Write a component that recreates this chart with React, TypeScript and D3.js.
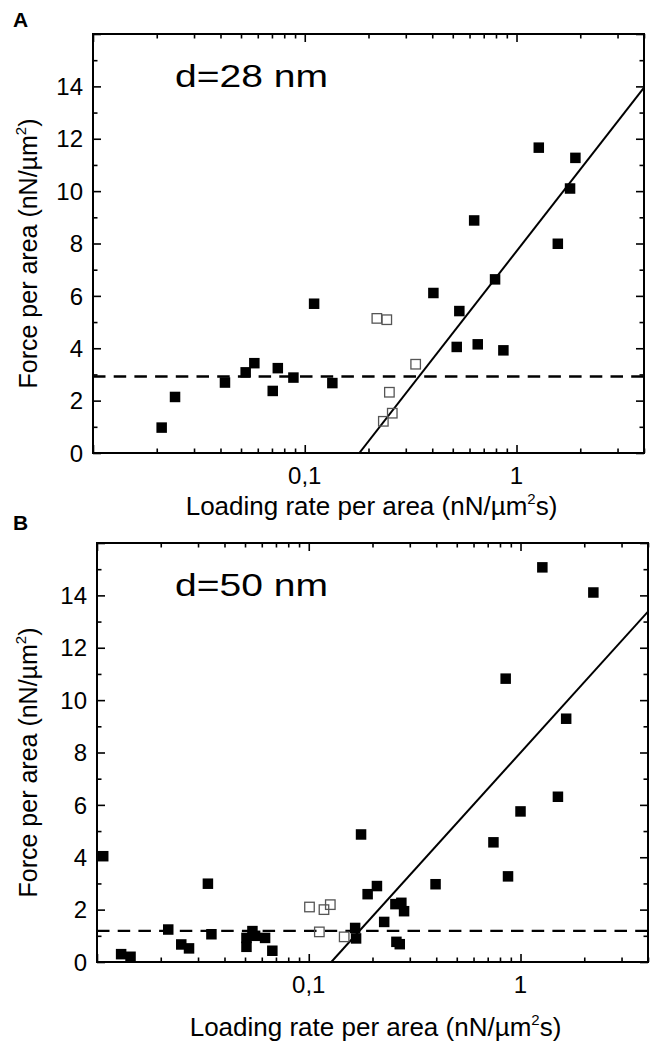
// react
import React, { useEffect, useRef } from 'react';
// d3
import * as d3 from 'd3';

const svgWidth = 651;
const svgHeight = 1043;
const font = 'Arial, "Liberation Sans", Helvetica, sans-serif';

// shared axes (log loading rate, linear force)
const xDomain = [0.01, 4];
const yDomain = [0, 16];
const xTickLabels: [number, string][] = [[0.1, '0,1'], [1, '1']];
const yTickLabels = [0, 2, 4, 6, 8, 10, 12, 14];

// panel A, d = 28 nm : [loading rate, force]
const filledA: [number, number][] = [
    [0.0211, 0.97], [0.0244, 2.14], [0.042, 2.69], [0.0526, 3.08], [0.0578, 3.43],
    [0.0706, 2.37], [0.0746, 3.24], [0.0884, 2.88], [0.1107, 5.70], [0.135, 2.67],
    [0.405, 6.11], [0.537, 5.42], [0.522, 4.05], [0.656, 4.15], [0.867, 3.92],
    [0.792, 6.63], [0.631, 8.88], [1.274, 11.66], [1.897, 11.27], [1.79, 10.10],
    [1.567, 7.99]
];
const openA: [number, number][] = [
    [0.219, 5.14], [0.244, 5.09], [0.334, 3.39], [0.251, 2.32], [0.259, 1.52], [0.235, 1.21]
];
const fitA: [number, number][] = [[0.181, 0], [4, 13.95]];
const plateauA = 2.92;

// panel B, d = 50 nm
const filledB: [number, number][] = [
    [0.0107, 4.04], [0.0130, 0.30], [0.0144, 0.20], [0.0217, 1.24], [0.0250, 0.67],
    [0.0272, 0.52], [0.0334, 2.99], [0.0347, 1.06], [0.0508, 0.58], [0.0508, 0.92],
    [0.0542, 1.18], [0.0558, 1.00], [0.0622, 0.92], [0.0673, 0.43], [0.1656, 1.30],
    [0.1673, 0.90], [0.1766, 4.87], [0.1897, 2.59], [0.2099, 2.90], [0.2271, 1.53],
    [0.2566, 2.21], [0.2737, 2.26], [0.2819, 1.94], [0.2594, 0.77], [0.269, 0.68],
    [0.397, 2.97], [0.745, 4.57], [0.873, 3.27], [1.0, 5.75], [1.502, 6.31],
    [1.268, 15.07], [2.208, 14.11], [0.851, 10.82], [1.643, 9.29]
];
const openB: [number, number][] = [
    [0.1008, 2.10], [0.118, 2.00], [0.1264, 2.19], [0.1122, 1.15], [0.147, 0.96]
];
const fitB: [number, number][] = [[0.1278, 0], [4, 13.38]];
const plateauB = 1.19;

const panels = [
    { id: 'A', label: 'd=28 nm', filled: filledA, open: openA, fit: fitA, plateau: plateauA,
      left: 93, right: 644, top: 34, bottom: 453, letterY: 27, xTitleGap: 62 },
    { id: 'B', label: 'd=50 nm', filled: filledB, open: openB, fit: fitB, plateau: plateauB,
      left: 97, right: 648, top: 543, bottom: 962, letterY: 530, xTitleGap: 74 }
];

const translate = (x, y) => 'translate(' + x + ',' + y + ')';

const isDecade = d => Math.abs(Math.log10(d) - Math.round(Math.log10(d))) < 1e-6;

const drawPanel = (svg, p) => {
    const x = d3.scaleLog().domain(xDomain).range([p.left, p.right]);
    const y = d3.scaleLinear().domain(yDomain).range([p.bottom, p.top]);
    const g = svg.append('g').attr('class', 'panel-' + p.id);

    const xt = x.ticks();
    const xMajor = xt.filter(isDecade);
    const xMinor = xt.filter(d => !isDecade(d));
    const yt = y.ticks(16);
    const yMajor = yt.filter(d => d % 2 === 0);
    const yMinor = yt.filter(d => d % 2 !== 0);

    const ticks = (axis, pos, values, len) => {
        g.append('g').attr('transform', pos)
            .call(axis.tickValues(values).tickSize(-len).tickFormat(() => ''))
            .call(a => a.select('.domain').remove())
            .selectAll('line').attr('stroke', '#000').attr('stroke-width', 1.6);
    };
    [[xMajor, 8], [xMinor, 4.5]].forEach(([vals, len]) => {
        ticks(d3.axisBottom(x), translate(0, p.bottom), vals, len);
        ticks(d3.axisTop(x), translate(0, p.top), vals, len);
    });
    [[yMajor, 8], [yMinor, 4.5]].forEach(([vals, len]) => {
        ticks(d3.axisLeft(y), translate(p.left, 0), vals, len);
        ticks(d3.axisRight(y), translate(p.right, 0), vals, len);
    });

    // frame
    g.append('rect')
        .attr('x', p.left).attr('y', p.top)
        .attr('width', p.right - p.left).attr('height', p.bottom - p.top)
        .attr('fill', 'none').attr('stroke', '#000').attr('stroke-width', 2);

    const clipId = 'clip-' + p.id;
    g.append('clipPath').attr('id', clipId).append('rect')
        .attr('x', p.left).attr('y', p.top)
        .attr('width', p.right - p.left).attr('height', p.bottom - p.top);

    // plateau (dashed) and fit (solid)
    g.append('line')
        .attr('clip-path', 'url(#' + clipId + ')')
        .attr('x1', x(xDomain[0])).attr('x2', x(xDomain[1]))
        .attr('y1', y(p.plateau)).attr('y2', y(p.plateau))
        .attr('stroke', '#000').attr('stroke-width', 2.4)
        .attr('stroke-dasharray', '12.5,8.2');

    const line = d3.line().x(d => x(d[0])).y(d => y(d[1]));
    g.append('path')
        .attr('clip-path', 'url(#' + clipId + ')')
        .attr('d', line(p.fit))
        .attr('fill', 'none').attr('stroke', '#000').attr('stroke-width', 2);

    const s = 10.5;
    g.selectAll('.filled')
        .data(p.filled)
        .enter()
        .append('rect')
        .attr('class', 'filled')
        .attr('x', d => x(d[0]) - s / 2)
        .attr('y', d => y(d[1]) - s / 2)
        .attr('width', s).attr('height', s)
        .attr('fill', '#000');

    g.selectAll('.open')
        .data(p.open)
        .enter()
        .append('rect')
        .attr('class', 'open')
        .attr('x', d => x(d[0]) - s / 2 + 0.5)
        .attr('y', d => y(d[1]) - s / 2 + 0.5)
        .attr('width', s - 1).attr('height', s - 1)
        .attr('fill', 'none').attr('stroke', '#555').attr('stroke-width', 1.3);

    // tick labels
    g.selectAll('.ylab')
        .data(yTickLabels)
        .enter()
        .append('text')
        .attr('class', 'ylab')
        .attr('x', p.left - 10)
        .attr('y', d => y(d))
        .attr('dy', '0.36em')
        .attr('text-anchor', 'end')
        .attr('font-family', font).attr('font-size', 24)
        .text(d => d);

    g.selectAll('.xlab')
        .data(xTickLabels)
        .enter()
        .append('text')
        .attr('class', 'xlab')
        .attr('x', d => x(d[0]))
        .attr('y', p.bottom + 31)
        .attr('text-anchor', 'middle')
        .attr('font-family', font).attr('font-size', 24)
        .text(d => d[1]);

    // axis titles
    const xt2 = g.append('text')
        .attr('x', (p.left + p.right) / 2 + 3)
        .attr('y', p.bottom + p.xTitleGap)
        .attr('text-anchor', 'middle')
        .attr('font-family', font).attr('font-size', 26);
    xt2.append('tspan').text('Loading rate per area (nN/\u00b5m');
    xt2.append('tspan').attr('font-size', 15).attr('dy', -11).text('2');
    xt2.append('tspan').attr('dy', 11).text('s)');

    const yt2 = g.append('text')
        .attr('transform', translate(37, (p.top + p.bottom) / 2 + 10) + ' rotate(-90)')
        .attr('text-anchor', 'middle')
        .attr('font-family', font).attr('font-size', 25);
    yt2.append('tspan').text('Force per area (nN/\u00b5m');
    yt2.append('tspan').attr('font-size', 15).attr('dy', -11).text('2');
    yt2.append('tspan').attr('dy', 11).text(')');

    // annotation and panel letter
    g.append('text')
        .attr('x', 175).attr('y', p.top + 53)
        .attr('font-family', font).attr('font-size', 31)
        .attr('textLength', 153).attr('lengthAdjust', 'spacingAndGlyphs')
        .text(p.label);

    g.append('text')
        .attr('x', 13).attr('y', p.letterY)
        .attr('font-family', font).attr('font-size', 21).attr('font-weight', 'bold')
        .text(p.id);
};

const App = () => {
    const myRef = useRef(null);

    useEffect(() => {
        const svg = d3.select(myRef.current);
        svg.selectAll('*').remove();
        panels.forEach(p => drawPanel(svg, p));
    }, []);

    return (
        <div style={{ position: 'absolute', left: 0, top: 0 }}>
            <svg width={svgWidth} height={svgHeight} ref={myRef}
                style={{ display: 'block', background: '#fff' }} />
        </div>
    );
};

export default App;
